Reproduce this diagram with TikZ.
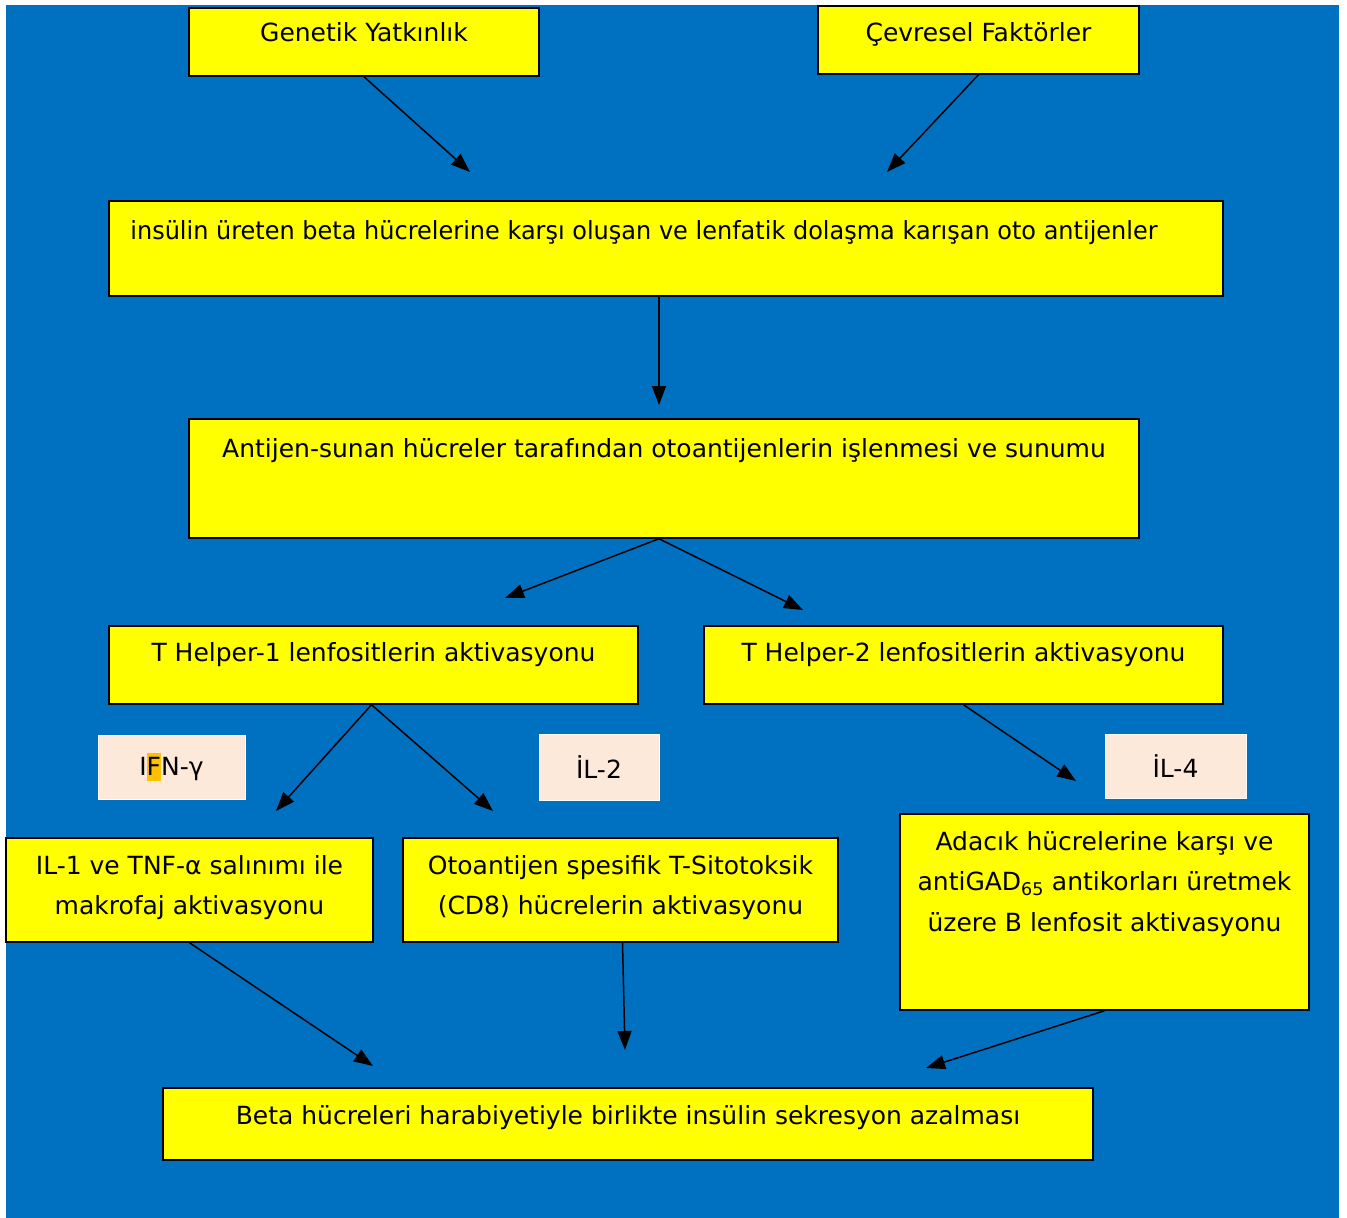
\documentclass[tikz,border=0pt]{standalone}
\usepackage{fontspec}
\usepackage{graphicx}
\setmainfont{DejaVu Sans}
\usetikzlibrary{arrows.meta}
\definecolor{bgblue}{HTML}{0070C0}
\definecolor{boxyellow}{RGB}{255,255,0}
\definecolor{palebox}{HTML}{FDE9D9}
\definecolor{hlorange}{HTML}{FFC000}
\tikzset{
  ybox/.style={draw=black, line width=1.5pt, fill=boxyellow, inner sep=0pt},
  pbox/.style={draw=white!85!palebox, line width=1pt, fill=palebox, inner sep=0pt},
  boxtext/.style={anchor=north, inner sep=0pt, align=center},
  flow/.style={->, line width=1.5pt}
}
\begin{document}
\begin{tikzpicture}[x=1pt, y=-1pt, every node/.style={font=\fontsize{25}{40.5}\selectfont}, >={Triangle[length=19pt, width=14pt]}]
	\useasboundingbox (0,0) rectangle (1347,1218);
	\fill[bgblue] (6,5) rectangle (1339,1218);
	% top row
	\node[ybox, minimum width=350pt, minimum height=68pt, label={[boxtext, yshift=-15pt]north:Genetik Yatkınlık}] (gen) at (364,42) {};
	\node[ybox, minimum width=321pt, minimum height=68pt, label={[boxtext, yshift=-17pt]north:Çevresel Faktörler}] (cev) at (978.5,40) {};
	\node[ybox, minimum width=1114pt, minimum height=95pt, label={[boxtext, xshift=-22pt, yshift=-20pt]north:\scalebox{0.96}[1]{insülin üreten beta hücrelerine karşı oluşan ve lenfatik dolaşma karışan oto antijenler}}] (ins) at (666,248.5) {};
	\node[ybox, minimum width=950pt, minimum height=119pt, label={[boxtext, yshift=-20pt]north:Antijen-sunan hücreler tarafından otoantijenlerin işlenmesi ve sunumu}] (apc) at (664,478.5) {};
	% helper cells
	\node[ybox, minimum width=529pt, minimum height=78pt, label={[boxtext, yshift=-17pt]north:T Helper-1 lenfositlerin aktivasyonu}] (th1) at (373.5,665) {};
	\node[ybox, minimum width=519pt, minimum height=78pt, label={[boxtext, yshift=-17pt]north:T Helper-2 lenfositlerin aktivasyonu}] (th2) at (963.5,665) {};
	% cytokines
	\node[pbox, minimum width=147pt, minimum height=64pt] (ifn) at (171.5,767) {I{\setlength{\fboxsep}{0pt}\colorbox{hlorange}{\rule[-6pt]{0pt}{28pt}F}}N-γ};
	\node[pbox, minimum width=120pt, minimum height=66pt] (il2) at (599,767) {İL-2};
	\node[pbox, minimum width=141pt, minimum height=64pt] (il4) at (1175.5,766) {İL-4};
	% effector boxes
	\node[ybox, minimum width=367pt, minimum height=104pt, label={[boxtext, yshift=-18pt]north:IL-1 ve TNF-α salınımı ile\\makrofaj aktivasyonu}] (mac) at (189.5,890) {};
	\node[ybox, minimum width=435pt, minimum height=104pt, label={[boxtext, yshift=-18pt]north:Otoantijen spesifik T-Sitotoksik\\(CD8) hücrelerin aktivasyonu}] (ctl) at (620.5,890) {};
	\node[ybox, minimum width=409pt, minimum height=196pt, label={[boxtext, yshift=-18pt]north:Adacık hücrelerine karşı ve\\antiGAD\textsubscript{65} antikorları üretmek\\üzere B lenfosit aktivasyonu}] (bcell) at (1104.5,912) {};
	\node[ybox, minimum width=930pt, minimum height=72pt, label={[boxtext, yshift=-18pt]north:Beta hücreleri harabiyetiyle birlikte insülin sekresyon azalması}] (beta) at (628,1124) {};
	% free arrow ends
	\coordinate (e1) at (470,172);
	\coordinate (e2) at (887,172);
	\coordinate (e3) at (659,405);
	\coordinate (e4) at (505,598);
	\coordinate (e5) at (803,610);
	\coordinate (e6) at (276,811);
	\coordinate (e7) at (493,811);
	\coordinate (e8) at (1076,781);
	\coordinate (e9) at (373,1066);
	\coordinate (e10) at (625,1050);
	\coordinate (e11) at (926,1068);
	% arrows
	\draw[flow] (gen.south) -- (e1);
	\draw[flow] (cev.south) -- (e2);
	\draw[flow] ([xshift=-7pt]ins.south) -- (e3);
	\draw[flow] ([xshift=-5pt]apc.south) -- (e4);
	\draw[flow] ([xshift=-5pt]apc.south) -- (e5);
	\draw[flow] ([xshift=-2pt]th1.south) -- (e6);
	\draw[flow] ([xshift=-2pt]th1.south) -- (e7);
	\draw[flow] (th2.south) -- (e8);
	\draw[flow] (mac.south) -- (e9);
	\draw[flow] ([xshift=2pt]ctl.south) -- (e10);
	\draw[flow] (bcell.south) -- (e11);
\end{tikzpicture}
\end{document}
